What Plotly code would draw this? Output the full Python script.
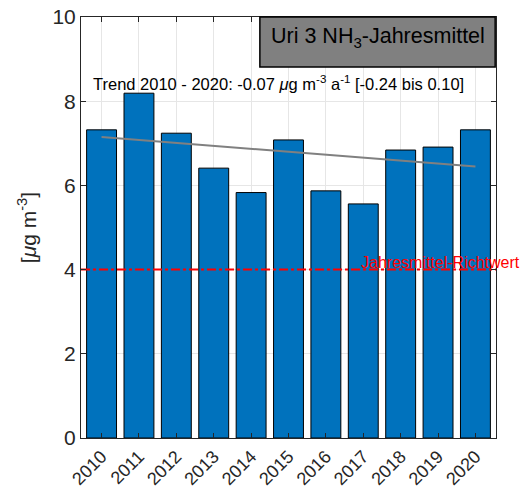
import plotly.graph_objects as go

years = [2010, 2011, 2012, 2013, 2014, 2015, 2016, 2017, 2018, 2019, 2020]
values = [7.32, 8.19, 7.24, 6.41, 5.83, 7.08, 5.87, 5.56, 6.84, 6.91, 7.32]
trend_x = [2010, 2020]
trend_y = [7.15, 6.45]
richtwert = 4
y_ticks = [0, 2, 4, 6, 8, 10]

fig = go.Figure()
fig.add_trace(go.Bar(x=years, y=values, width=0.8,
                     marker=dict(color="#0072BD", line=dict(color="black", width=1))))
fig.add_trace(go.Scatter(x=trend_x, y=trend_y, mode="lines",
                         line=dict(color="#808080", width=2)))
fig.add_trace(go.Scatter(x=[2009.45, 2020.55], y=[richtwert, richtwert], mode="lines",
                         line=dict(color="red", width=2, dash="dashdot")))

fig.update_layout(
    width=520, height=494,
    margin=dict(l=73, r=32, t=9, b=64, autoexpand=False),
    paper_bgcolor="white", plot_bgcolor="white",
    showlegend=False,
    font=dict(family="Liberation Sans, Arial", color="#262626"),
    xaxis=dict(range=[2009.45, 2020.55], tickvals=years, ticktext=[str(y) for y in years],
               tickangle=-45, tickfont=dict(size=18), showgrid=True, gridcolor="#e6e6e6",
               showline=True, linecolor="#262626", mirror="allticks", ticks="inside",
               ticklen=5, tickcolor="#262626", zeroline=False, automargin=False,
               ticklabeloverflow="allow"),
    yaxis=dict(range=[0, 10], tickvals=y_ticks, tickfont=dict(size=21), showgrid=True,
               gridcolor="#e6e6e6", showline=True, linecolor="#262626", mirror="allticks",
               ticks="inside", ticklen=5, tickcolor="#262626", zeroline=False, automargin=False,
               ticklabeloverflow="allow",
               title=dict(text="[<i>μ</i>g m<sup>-3</sup>]", font=dict(size=21), standoff=10)),
)

fig.add_shape(type="rect", xref="paper", yref="paper", x0=0.431, x1=0.998, y0=0.881, y1=1.0,
              fillcolor="#808080", line=dict(color="black", width=1.5), layer="above")
fig.add_annotation(xref="paper", yref="paper", x=0.716, y=0.952, xanchor="center", yanchor="middle",
                   showarrow=False,
                   text="Uri 3 NH<sub>3</sub>-Jahresmittel", font=dict(size=21.5, color="black"))
fig.add_annotation(xref="paper", yref="y", x=0.477, y=8.43, xanchor="center", showarrow=False,
                   text="Trend 2010 - 2020: -0.07 <i>μ</i>g m<sup>-3</sup> a<sup>-1</sup> [-0.24 bis 0.10]",
                   font=dict(size=16.5, color="black"))
fig.add_annotation(xref="paper", yref="y", x=1.062, y=richtwert, xanchor="right", yanchor="bottom",
                   yshift=-3, showarrow=False, text="Jahresmittel-Richtwert",
                   font=dict(size=16, color="red"))

fig.write_html("out.html")
